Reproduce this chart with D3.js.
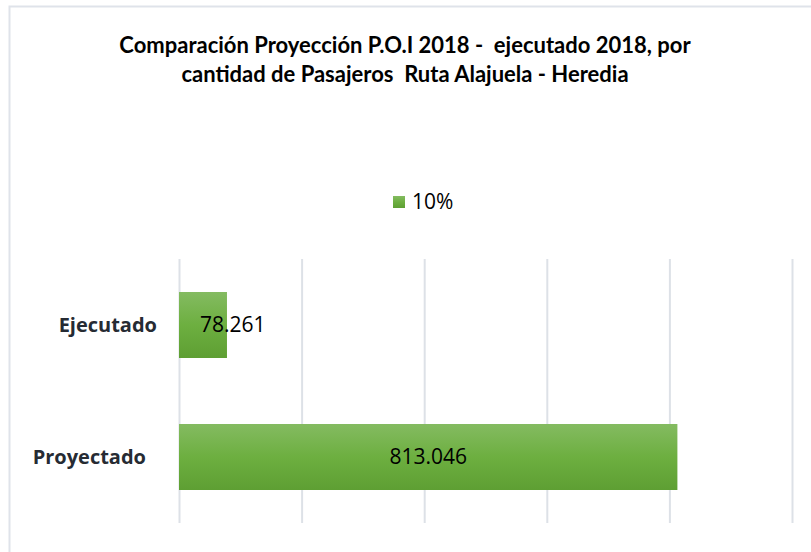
<!DOCTYPE html>
<html lang="es">
<head>
<meta charset="UTF-8">
<title>Comparación Proyección P.O.I 2018 - ejecutado 2018</title>
<script src="https://d3js.org/d3.v7.min.js"></script>
<style>
    body { margin: 0; background: #fff; }
    .title { font-family: Lato, "Open Sans", sans-serif; font-weight: bold; font-size: 22px; fill: #000; white-space: pre; }
    .cat { font-family: "Open Sans", sans-serif; font-weight: bold; font-size: 20px; fill: #262b33; }
    .val { font-family: "Open Sans", sans-serif; font-size: 21px; fill: #000; }
    .legend { font-family: "Open Sans", sans-serif; font-size: 21px; fill: #000; }
    .grid line { stroke: #dde1e7; stroke-width: 2px; }
</style>
</head>
<body>
<svg width="811" height="552"></svg>
<script>
// chart data
var categories = ["Proyectado", "Ejecutado"];
var values = [813046, 78261];
var seriesName = "10%";
var xTicks = [0, 200000, 400000, 600000, 800000, 1000000];
var titleLines = ["Comparación Proyección P.O.I 2018 -  ejecutado 2018, por",
                  "cantidad de Pasajeros  Ruta Alajuela - Heredia"];

var config = {
    "left": 179,
    "right": 792,
    "top": 259,
    "bottom": 523
};

var svg = d3.select("svg");

// chart area border
svg.append("rect")
    .attr("x", 9.5).attr("y", 6.5)
    .attr("width", 830).attr("height", 600)
    .attr("fill", "#fff")
    .attr("stroke", "#dfe3ea")
    .attr("stroke-width", 2);

var defs = svg.append("defs");
var grad = defs.append("linearGradient")
    .attr("id", "barGrad")
    .attr("x1", 0).attr("y1", 0).attr("x2", 0).attr("y2", 1);
grad.append("stop").attr("offset", "0%").attr("stop-color", "#84bb61");
grad.append("stop").attr("offset", "50%").attr("stop-color", "#6daf40");
grad.append("stop").attr("offset", "100%").attr("stop-color", "#5e9f33");

// title
svg.append("text")
    .attr("class", "title")
    .attr("text-anchor", "middle")
    .selectAll("tspan")
    .data(titleLines)
    .enter()
    .append("tspan")
    .attr("x", 405)
    .attr("y", function(d, i) { return 53 + i * 29; })
    .text(function(d) { return d; });

// legend
var legend = svg.append("g").attr("transform", "translate(393,196)");
legend.append("rect")
    .attr("width", 12).attr("height", 12)
    .attr("fill", "url(#barGrad)");
legend.append("text")
    .attr("class", "legend")
    .attr("x", 19).attr("y", 6)
    .attr("dy", "0.35em")
    .text(seriesName);

var xScale = d3.scaleLinear()
    .domain([0, d3.max(xTicks)])
    .range([config.left, config.right]);

var yScale = d3.scaleBand()
    .domain(categories)
    .range([config.bottom, config.top])
    .paddingInner(0.5)
    .paddingOuter(0.25);

// gridlines
svg.append("g")
    .attr("class", "grid")
    .attr("transform", "translate(0," + config.bottom + ")")
    .call(d3.axisBottom(xScale)
        .tickValues(xTicks)
        .tickSize(-(config.bottom - config.top))
        .tickFormat(""))
    .call(function(g) { g.select(".domain").remove(); });

var rows = categories.map(function(c, i) { return {cat: c, value: values[i]}; });

// bars
svg.selectAll("rect.bar")
    .data(rows)
    .enter()
    .append("rect")
    .attr("class", "bar")
    .attr("x", xScale(0))
    .attr("y", function(d) { return yScale(d.cat); })
    .attr("width", function(d) { return xScale(d.value) - xScale(0); })
    .attr("height", yScale.bandwidth())
    .attr("fill", "url(#barGrad)");

// value labels, centred; pushed right when the bar is too short
var fmt = function(v) { return d3.format(",")(v).replace(/,/g, "."); };
svg.selectAll("text.val")
    .data(rows)
    .enter()
    .append("text")
    .attr("class", "val")
    .attr("y", function(d) { return yScale(d.cat) + yScale.bandwidth() / 2; })
    .attr("dy", "0.35em")
    .text(function(d) { return fmt(d.value); })
    .each(function(d) {
        var w = this.getComputedTextLength();
        var x0 = xScale(0), x1 = xScale(d.value);
        var cx = (x0 + x1) / 2;
        if (w > x1 - x0) cx = x0 + 21 + w / 2;
        d3.select(this).attr("x", cx).attr("text-anchor", "middle");
    });

// category labels
var labelRight = {"Ejecutado": 157, "Proyectado": 146};
svg.selectAll("text.cat")
    .data(categories)
    .enter()
    .append("text")
    .attr("class", "cat")
    .attr("text-anchor", "end")
    .attr("x", function(d) { return labelRight[d]; })
    .attr("y", function(d) { return yScale(d) + yScale.bandwidth() / 2; })
    .attr("dy", "0.35em")
    .text(function(d) { return d; });
</script>
</body>
</html>
